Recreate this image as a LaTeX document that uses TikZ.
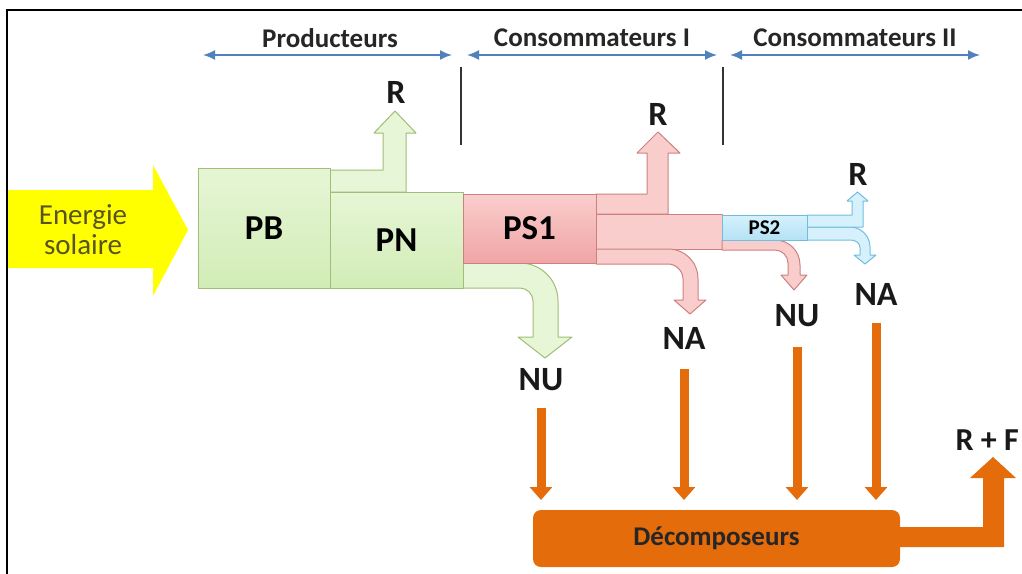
\documentclass[tikz,border=0pt]{standalone}
\usepackage{fontspec}
\setmainfont{Carlito}
\usepackage{tikz}
\usetikzlibrary{arrows.meta}
\usetikzlibrary{calc}
\usetikzlibrary{positioning}
\definecolor{greenfill}{RGB}{210,236,182}
\definecolor{greenlight}{RGB}{230,246,214}
\definecolor{greenline}{RGB}{160,190,118}
\definecolor{pinkfill}{RGB}{240,165,165}
\definecolor{pinklight}{RGB}{250,205,205}
\definecolor{pinkline}{RGB}{205,128,128}
\definecolor{bluefill}{RGB}{180,226,245}
\definecolor{bluelight}{RGB}{214,241,252}
\definecolor{blueline}{RGB}{112,190,222}
\definecolor{decoorange}{RGB}{228,108,10}
\definecolor{sunyellow}{RGB}{255,255,0}
\definecolor{spanblue}{RGB}{79,129,189}
\definecolor{energytext}{RGB}{88,84,30}

\begin{document}
\begin{tikzpicture}[
            x=1pt, y=-1pt,
            box/.style={
                draw, line width=1pt, inner sep=0pt,
                font=\fontsize{35}{40}\selectfont\bfseries,
            },
            prodbox/.style={box, draw=greenline, top color=greenlight, bottom color=greenfill},
            consbox/.style={box, draw=pinkline, top color=pinklight, bottom color=pinkfill},
            greenarrow/.style={draw=greenline, line width=1pt, line join=round, fill=greenlight},
            pinkarrow/.style={draw=pinkline, line width=1pt, line join=round, fill=pinklight},
            bluearrow/.style={draw=blueline, line width=1pt, line join=round, fill=bluelight},
            lbl/.style={font=\fontsize{34}{40}\selectfont\bfseries, inner sep=0pt, text=black!90},
            head/.style={font=\fontsize{27}{32}\selectfont\bfseries, inner sep=0pt, text=black!85},
            span/.style={{Latex[length=12pt, width=10pt]}-{Latex[length=12pt, width=10pt]}, line width=1.8pt, spanblue},
            drop/.style={-{Triangle[length=13pt, width=22pt]}, line width=9pt, decoorange},
        ]
            \useasboundingbox (0,0) rectangle (1022,573);
            \clip (0,0) rectangle (1022,573);

            % --- solar energy ---
            \fill[sunyellow] (7,190) -- (153,190) -- (153,165) -- (188,230)
                -- (153,296) -- (153,268) -- (7,268) -- cycle;
            \node[align=center, text=energytext, font=\fontsize{29}{30}\selectfont] (sun) at (83,230) {Energie\\solaire};

            % --- frame ---
            \draw[line width=2pt] (7,600) -- (7,10) -- (1040,10);

            % --- trophic levels on top ---
            \node[head] (prod) at (330,38) {Producteurs};
            \node[head] (cons1) at (592,38) {Consommateurs I};
            \node[head] (cons2) at (855,38) {Consommateurs II};
            \coordinate (prodL) at (203,55);
            \coordinate (prodR) at (452,55);
            \coordinate (c1L) at (467,55);
            \coordinate (c1R) at (717,55);
            \coordinate (c2L) at (730,55);
            \coordinate (c2R) at (980,55);
            \draw[span] (prodL) -- (prodR);
            \draw[span] (c1L) -- (c1R);
            \draw[span] (c2L) -- (c2R);
            \draw[line width=1.4pt, black!80] (461,67) -- (461,145);
            \draw[line width=1.4pt, black!80] (723,67) -- (723,145);

            % --- flows leaving the boxes ---
            \draw[greenarrow] (330,170) -- (383,170) -- (383,133) -- (374,133) -- (395,111)
                -- (416,133) -- (406,133) -- (406,192) -- (330,192) -- cycle;
            \draw[greenarrow] (463,263) -- (520,263) .. controls (541,263) and (558,280) .. (558,301)
                -- (558,337) -- (572,337) -- (545,358) -- (518,337) -- (533,337) -- (533,301)
                .. controls (533,294) and (527,288) .. (520,288) -- (463,288) -- cycle;
            \draw[pinkarrow] (596,194) -- (647,194) -- (647,153) -- (637,153) -- (658,132)
                -- (680,153) -- (668,153) -- (668,214) -- (596,214) -- cycle;
            \draw[pinkarrow] (596,214) rectangle (722,249);
            \draw[pinkarrow] (596,249) -- (668,249) .. controls (685,249) and (698,262) .. (698,279)
                -- (698,300) -- (706,300) -- (690,314) -- (674,300) -- (683,300) -- (683,279)
                .. controls (683,271) and (676,264) .. (668,264) -- (596,264) -- cycle;
            \draw[pinkarrow] (722,240) -- (775,240) .. controls (789,240) and (800,251) .. (800,265)
                -- (800,275) -- (807,275) -- (794,290) -- (781,275) -- (788,275) -- (788,263)
                .. controls (788,256) and (782,250) .. (775,250) -- (722,250) -- cycle;
            \draw[bluearrow] (807,227) -- (850,227) .. controls (861,227) and (870,236) .. (870,247)
                -- (870,255) -- (876,255) -- (865,264) -- (854,255) -- (860,255) -- (860,248)
                .. controls (860,243) and (856,240) .. (850,240) -- (807,240) -- cycle;
            \draw[bluearrow] (807,215) -- (852,215) -- (852,201) -- (847,201) -- (857.5,192)
                -- (868,201) -- (863,201) -- (863,227) -- (807,227) -- cycle;

            % --- compartments ---
            \node[prodbox, minimum width=132pt, minimum height=120pt] (pb) at (264,228) {PB};
            \node[prodbox, minimum width=133pt, minimum height=96pt] (pn) at (396.5,240) {PN};
            \node[consbox, minimum width=133pt, minimum height=69pt] (ps1) at (529.5,228.5) {PS1};
            \node[box, draw=blueline, top color=bluelight, bottom color=bluefill,
                minimum width=85pt, minimum height=25pt, font=\fontsize{21}{24}\selectfont\bfseries] (ps2) at (764.5,227.5) {PS2};

            % --- outputs ---
            \node[lbl] (rpn) at (396,92) {R};
            \node[lbl] (rps1) at (658,114) {R};
            \node[lbl] (rps2) at (858,174) {R};
            \node[lbl] (nu1) at (541,380) {NU};
            \node[lbl] (na1) at (684,338) {NA};
            \node[lbl] (nu2) at (797,316) {NU};
            \node[lbl] (na2) at (876,294) {NA};

            % --- decomposers ---
            \node[fill=decoorange, rounded corners=8pt, minimum width=367pt, minimum height=57pt,
                font=\fontsize{27}{32}\selectfont\bfseries, text=black!85] (deco) at (716.5,538.5) {Décomposeurs};
            \coordinate (dtop) at (0,500);
            \draw[drop] ([yshift=-17pt]nu1.south) -- (nu1 |- dtop);
            \draw[drop] ([yshift=-20pt]na1.south) -- (na1 |- dtop);
            \draw[drop] ([yshift=-20pt]nu2.south) -- (nu2 |- dtop);
            \draw[drop] ([yshift=-18pt]na2.south) -- (na2 |- dtop);

            \fill[decoorange] (895,527) -- (983,527) -- (983,478) -- (970,478) -- (993,457)
                -- (1016,478) -- (1004,478) -- (1004,547) -- (895,547) -- cycle;
            \node[lbl, anchor=east, font=\fontsize{32}{40}\selectfont\bfseries] (rf) at (1019,440) {R + F};
        \end{tikzpicture}
\end{document}
